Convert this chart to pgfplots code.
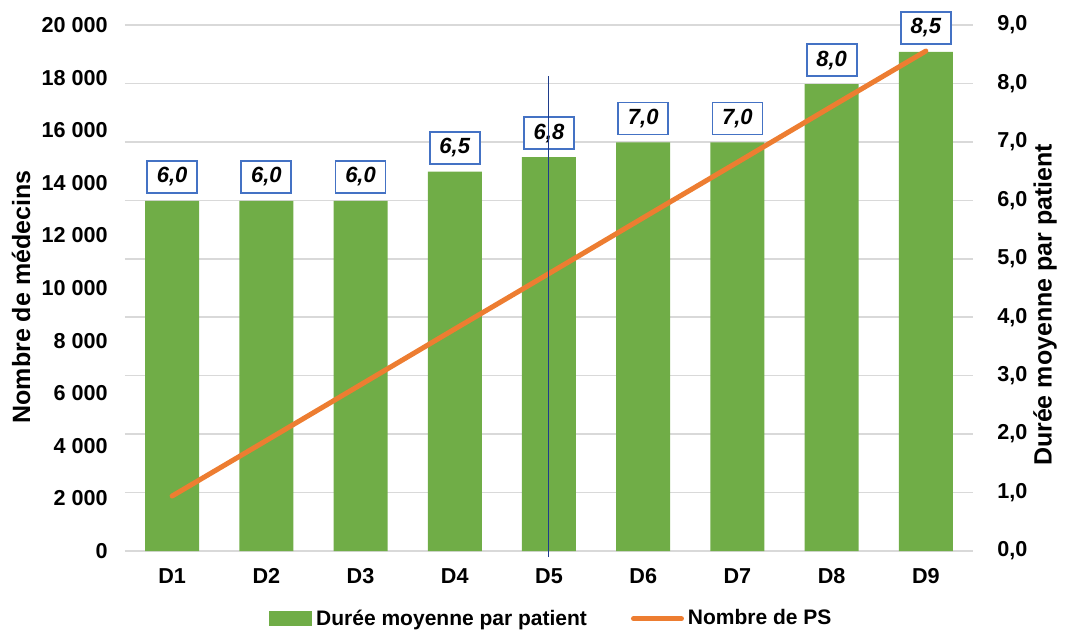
\documentclass[border=0pt]{standalone}
\usepackage{fontspec}
\setmainfont{Liberation Sans}
\usepackage{pgfplots}
\pgfplotsset{compat=1.18}
\definecolor{barg}{HTML}{70AD47}
\definecolor{lineo}{HTML}{ED7D31}
\definecolor{boxb}{HTML}{4472C4}
\definecolor{gridg}{HTML}{D9D9D9}
\definecolor{artb}{HTML}{1F3C8C}
\pgfkeys{/pgf/number format/assume math mode=true}
\pgfplotsset{
  barlegend/.style={legend image code/.code={\fill[##1] (0pt,-3.75pt) rectangle (21.5pt,3.75pt);}},
  linelegend/.style={legend image code/.code={\draw[##1] (0pt,0pt) -- (24pt,0pt);}},
}
\begin{document}
\begin{tikzpicture}
\path[use as bounding box] (-62.5pt,-41pt) rectangle (470pt,275.5pt);
\begin{axis}[
  at={(0,0)}, anchor=south west, scale only axis, width=424pt, height=263pt,
  xmin=0.5, xmax=9.5, ymin=0, ymax=9,
  axis line style={draw=none}, major tick length=0pt,
  ymajorgrids, grid style={gridg, line width=0.75pt},
  ytick={0,1,...,9}, yticklabel pos=right,
  xtick={1,...,9}, xticklabels={D1,D2,D3,D4,D5,D6,D7,D8,D9},
  tick label style={font=\bfseries\fontsize{10.8}{13}\selectfont},
  yticklabel style={/pgf/number format/.cd, fixed, fixed zerofill, precision=1, use comma, /tikz/.cd, anchor=west, inner sep=0pt, xshift=12pt},
  xticklabel style={anchor=base, yshift=-16pt},
  ylabel={Durée moyenne par patient},
  ylabel style={at={(axis description cs:1.085,0.468)}, anchor=center, font=\bfseries\fontsize{12.5}{15}\selectfont},
  clip=false,
]
\addplot[ybar, bar width=27pt, fill=barg, draw=none,
  nodes near coords, point meta=explicit symbolic,
  every node near coord/.append style={font=\bfseries\itshape\fontsize{11}{13}\selectfont,
    draw=boxb, line width=0.9pt, fill=white, minimum width=25pt, minimum height=16pt,
    inner sep=0pt, anchor=south, yshift=3.5pt}]
coordinates {
(1,5.99) [{6,0}]
(2,5.99) [{6,0}]
(3,5.99) [{6,0}]
(4,6.49) [{6,5}]
(5,6.74) [{6,8}]
(6,6.99) [{7,0}]
(7,6.99) [{7,0}]
(8,7.99) [{8,0}]
(9,8.54) [{8,5}]
};
\end{axis}
\begin{axis}[
  at={(0,0)}, anchor=south west, scale only axis, width=424pt, height=263pt,
  xmin=0.5, xmax=9.5, ymin=0, ymax=20000,
  axis line style={draw=none}, major tick length=0pt,
  xtick=\empty, ytick={0,2000,...,20000}, scaled y ticks=false,
  tick label style={font=\bfseries\fontsize{10.8}{13}\selectfont},
  yticklabel style={/pgf/number format/.cd, 1000 sep={\ }, /tikz/.cd, anchor=east, inner sep=0pt, xshift=-8.5pt},
  ylabel={Nombre de médecins},
  ylabel style={at={(axis description cs:-0.1226,0.483)}, anchor=center, font=\bfseries\fontsize{12.5}{15}\selectfont},
  clip=false,
  legend columns=2,
  legend cell align=left,
  legend style={at={(axis description cs:0.504,-0.129)}, anchor=center, draw=none, fill=none,
    font=\bfseries\fontsize{10.5}{12}\selectfont,
    /tikz/every even column/.append style={column sep=20pt}},
]
\addlegendimage{barlegend, fill=barg, draw=none}
\addlegendentry{Durée moyenne par patient}
\addplot[lineo, line width=2.5pt, line cap=round, linelegend] coordinates {
(1,2090) (2,4200) (3,6320) (4,8440) (5,10550) (6,12670) (7,14780) (8,16900) (9,19010)
};
\addlegendentry{Nombre de PS}
\addplot[artb, line width=0.5pt, forget plot] coordinates {(5,-228) (5,18061)};
\end{axis}
\end{tikzpicture}
\end{document}
